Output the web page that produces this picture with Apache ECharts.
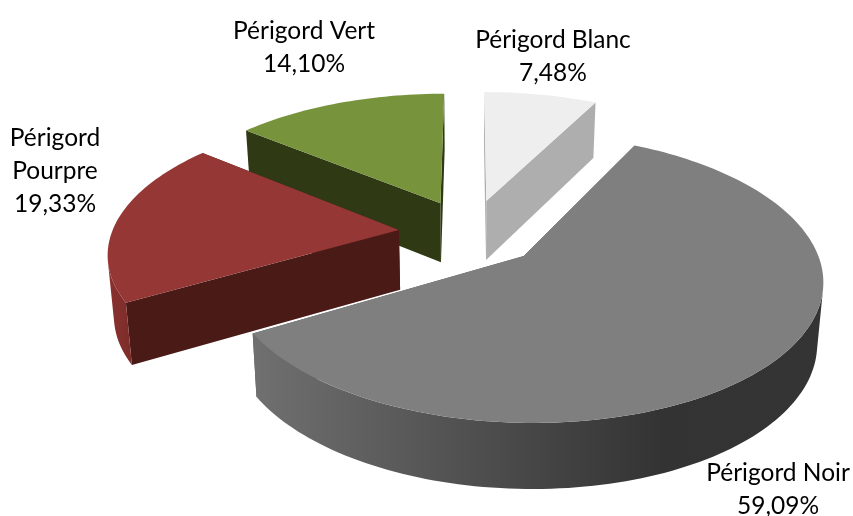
<!DOCTYPE html>
<html>
<head>
<meta charset="utf-8">
<style>
html, body { margin: 0; padding: 0; background: #fff; }
#chart { width: 853px; height: 516px; }
</style>
<script src="https://cdn.jsdelivr.net/npm/echarts@6/dist/echarts.min.js"></script>
</head>
<body>
<div id="chart"></div>
<script>
// clockwise from 12 o'clock
const categories = ['Périgord Blanc', 'Périgord Noir', 'Périgord\nPourpre', 'Périgord Vert'];
const shares = [7.48, 59.09, 19.33, 14.10];

const topColors = ['#eeeeee', '#7f7f7f', '#943735', '#77933c'];
const cutColors = ['#aeaeae', '#555555', '#4a1a17', '#2f3a15'];
const rimStops = [
  [[0, '#a8a8a8'], [1, '#b4b4b4']],
  [[0, '#707070'], [0.4, '#4e4e4e'], [0.72, '#333333'], [1, '#343434']],
  [[0, '#8a3230'], [1, '#7c2c2a']],
  [[0, '#5f7a2c'], [1, '#6d8836']]
];
const labelAnchors = [[553, 40], [778, 473], [55, 138], [304, 31]];

// projection of the tilted pie
const cx = 470.2, cy = 232.5, rx = 287, ry = 134, persp = 0.15;
const explode = 0.25, depth = 60, sink = 0.0174;

function project(wx, wy, down) {
  const s = 1 / (1 - persp * wy);
  const x = cx + wx * rx * s;
  const y = cy + wy * ry * s;
  if (!down) return [x, y];
  return [cx + (x - cx) * (1 - sink), y + depth * Math.sqrt(s)];
}

const total = shares.reduce((a, b) => a + b, 0);

function sliceAngles(index) {
  const before = shares.slice(0, index).reduce((a, b) => a + b, 0);
  const from = before / total * Math.PI * 2;
  return [from, from + shares[index] / total * Math.PI * 2];
}

// keep only the part of the outer wall that faces the viewer
function frontRim(topArc, lowArc) {
  let start = -1, end = -1;
  for (let k = 0; k < topArc.length - 1; k++) {
    const ex = topArc[k + 1][0] - topArc[k][0], ey = topArc[k + 1][1] - topArc[k][1];
    const dx = lowArc[k][0] - topArc[k][0], dy = lowArc[k][1] - topArc[k][1];
    if (ex * dy - ey * dx < 0) {
      if (start < 0) start = k;
      end = k + 1;
    }
  }
  if (start < 0) return null;
  return topArc.slice(start, end + 1).concat(lowArc.slice(start, end + 1).reverse());
}

function renderSlice(params, api) {
  const i = params.dataIndex;
  const [from, to] = sliceAngles(i);
  const mid = (from + to) / 2;
  const ax = explode * Math.sin(mid), ay = -explode * Math.cos(mid);
  const base = Math.round((ay + 1) * 1000);

  const topArc = [], lowArc = [];
  const steps = Math.ceil((to - from) * 40);
  for (let k = 0; k <= steps; k++) {
    const a = from + (to - from) * k / steps;
    const wx = ax + Math.sin(a), wy = ay - Math.cos(a);
    topArc.push(project(wx, wy, false));
    lowArc.push(project(wx, wy, true));
  }
  const apexTop = project(ax, ay, false);
  const apexLow = project(ax, ay, true);
  const last = topArc.length - 1;

  const poly = (points, fill, z) => ({
    type: 'polygon',
    z2: base + z,
    shape: { points },
    style: { fill }
  });

  const children = [
    poly([apexTop, topArc[0], lowArc[0], apexLow], cutColors[i], 0),
    poly([apexTop, topArc[last], lowArc[last], apexLow], cutColors[i], 1)
  ];
  const rim = frontRim(topArc, lowArc);
  if (rim) {
    children.push(poly(rim, new echarts.graphic.LinearGradient(0, 0, 1, 0,
      rimStops[i].map(s => ({ offset: s[0], color: s[1] }))), 2));
  }
  children.push(poly([apexTop].concat(topArc), topColors[i], 3));
  children.push({
    type: 'text',
    z2: 5000,
    style: {
      x: labelAnchors[i][0],
      y: labelAnchors[i][1] - 16,
      text: categories[i] + '\n' + api.value(0).toFixed(2).replace('.', ',') + '%',
      fill: '#000000',
      align: 'center',
      verticalAlign: 'top',
      font: '24.5px Lato',
      lineHeight: 33
    }
  });

  return { type: 'group', children };
}

const chart = echarts.init(document.getElementById('chart'), null, { renderer: 'canvas' });
chart.setOption({
  animation: false,
  backgroundColor: '#ffffff',
  series: [{
    type: 'custom',
    coordinateSystem: 'none',
    silent: true,
    renderItem: renderSlice,
    data: shares.map(v => [v])
  }]
});
</script>
</body>
</html>
